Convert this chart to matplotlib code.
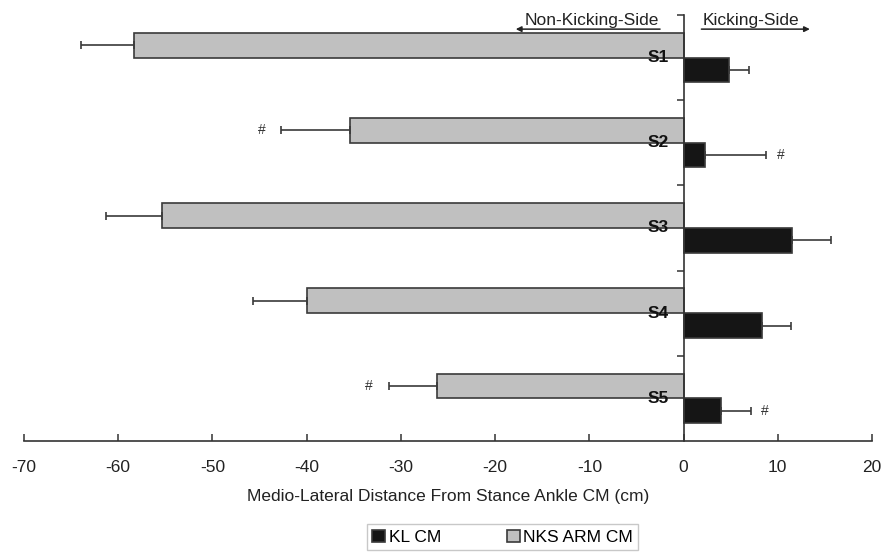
import matplotlib.pyplot as plt
import numpy as np

plt.rcParams['font.family'] = ['Liberation Sans', 'DejaVu Sans']
plt.rcParams['axes.unicode_minus'] = False

subjects = ['S1', 'S2', 'S3', 'S4', 'S5']
kl_cm = [4.8, 2.3, 11.5, 8.3, 4.0]
kl_sd = [2.1, 6.5, 4.2, 3.1, 3.2]
nks_arm = [-58.3, -35.4, -55.3, -40.0, -26.2]
nks_sd = [5.6, 7.3, 6.0, 5.7, 5.1]
kl_hash = [False, True, False, False, True]
nks_hash = [False, True, False, False, True]

fig = plt.figure(figsize=(8.85, 5.55), dpi=100)
ax = fig.add_axes([0.0271, 0.2054, 0.9582, 0.7676])

y = np.arange(len(subjects))
h = 0.29
edge = '#3a3a3a'

ax.barh(y - h/2, nks_arm, height=h, color='#c0c0c0', edgecolor=edge, linewidth=1.2,
        xerr=[nks_sd, np.zeros(5)], error_kw=dict(ecolor=edge, elinewidth=1.2, capsize=3, capthick=1.2),
        label='NKS ARM CM', zorder=2)
ax.barh(y + h/2, kl_cm, height=h, color='#151515', edgecolor=edge, linewidth=1.2,
        xerr=[np.zeros(5), kl_sd], error_kw=dict(ecolor=edge, elinewidth=1.2, capsize=3, capthick=1.2),
        label='KL CM', zorder=2)

for i, s in enumerate(subjects):
    ax.text(-1.6, i, s, ha='right', va='center', fontsize=12.5, fontweight='bold', color='#111111', zorder=3)
    if nks_hash[i]:
        ax.annotate('#', (nks_arm[i] - nks_sd[i], i - h/2), xytext=(-14, 0), textcoords='offset points',
                    ha='center', va='center', fontsize=10, color='#333333')
    if kl_hash[i]:
        ax.annotate('#', (kl_cm[i] + kl_sd[i], i + h/2), xytext=(10, 0), textcoords='offset points',
                    ha='center', va='center', fontsize=10, color='#333333')

# side arrows
ax.annotate('', xy=(-18.1, -0.334), xytext=(-2.2, -0.334),
            arrowprops=dict(arrowstyle='-|>', color='#222222', lw=1.1, mutation_scale=8))
ax.annotate('', xy=(13.7, -0.334), xytext=(1.6, -0.334),
            arrowprops=dict(arrowstyle='-|>', color='#222222', lw=1.1, mutation_scale=8))
ax.text(-9.7, -0.44, 'Non-Kicking-Side', ha='center', va='center', fontsize=12.5, color='#222222')
ax.text(7.1, -0.44, 'Kicking-Side', ha='center', va='center', fontsize=12.5, color='#222222')

ax.set_xlim(-70, 20)
ax.set_ylim(4.5, -0.5)
ax.set_xticks(np.arange(-70, 21, 10))
ax.set_yticks(np.arange(-0.5, 4.5, 1.0))
ax.set_yticklabels([])
ax.spines['left'].set_position(('data', 0))
ax.spines['top'].set_visible(False)
ax.spines['right'].set_visible(False)
for sp in ['left', 'bottom']:
    ax.spines[sp].set_color('#333333')
    ax.spines[sp].set_linewidth(1.2)
ax.tick_params(axis='x', direction='in', length=5, width=1.1, color='#333333',
               labelsize=12.5, labelcolor='#222222', pad=13.5)
ax.tick_params(axis='y', direction='out', length=5, width=1.1, color='#333333')
ax.set_xlabel('Medio-Lateral Distance From Stance Ankle CM (cm)', fontsize=12.5, color='#222222', labelpad=10)

hd, lb = ax.get_legend_handles_labels()
leg = fig.legend(hd[::-1], lb[::-1], loc='center', bbox_to_anchor=(0.568, 0.032), ncol=2,
                 fontsize=12.5, frameon=True, fancybox=False, edgecolor='#bbbbbb',
                 handlelength=0.75, handleheight=0.75, handletextpad=0.2, columnspacing=3.8,
                 borderpad=0.3, borderaxespad=0)
leg.get_frame().set_linewidth(1.0)

fig.savefig('out.png', dpi=100)
